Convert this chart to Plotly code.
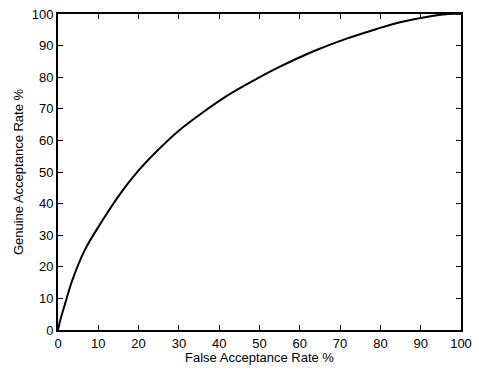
import plotly.graph_objects as go

far = [0, 0.6, 1.8, 3.4, 6.6, 10.7, 15.6, 20, 25, 29.9, 36, 42.2, 49.5,
       55.2, 63.4, 71.6, 78.9, 84.6, 92.8, 96.8, 100]
gar = [0, 3.3, 8.5, 15.2, 25.2, 34, 43.4, 50.5, 57.2, 63, 68.9, 74.3, 79.6,
       83.4, 88.2, 92.2, 95.2, 97.3, 99.4, 100, 100]
ticks = [0, 10, 20, 30, 40, 50, 60, 70, 80, 90, 100]

FONT = "Liberation Sans, Arial, sans-serif"

fig = go.Figure()
fig.add_trace(go.Scatter(x=far, y=gar, mode="lines",
                         line=dict(color="black", width=2, shape="spline", smoothing=1.0),
                         showlegend=False, hoverinfo="skip"))

axis_common = dict(range=[0, 100], tickvals=ticks, ticks="inside", ticklen=5,
                   tickwidth=1.2, tickcolor="black", showline=True, linecolor="black",
                   linewidth=1.8, mirror="ticks", showgrid=False, zeroline=False,
                   tickfont=dict(family=FONT, size=13, color="black"))

fig.update_xaxes(**axis_common,
                 title=dict(text="False Acceptance Rate %", standoff=2,
                            font=dict(family=FONT, size=13, color="black")))
fig.update_yaxes(**axis_common,
                 title=dict(text="Genuine Acceptance Rate %", standoff=5,
                            font=dict(family=FONT, size=13, color="black")))

fig.update_layout(width=479, height=372, margin=dict(l=58, r=13, t=7, b=42),
                  paper_bgcolor="white", plot_bgcolor="white")

fig.write_html("out.html")
